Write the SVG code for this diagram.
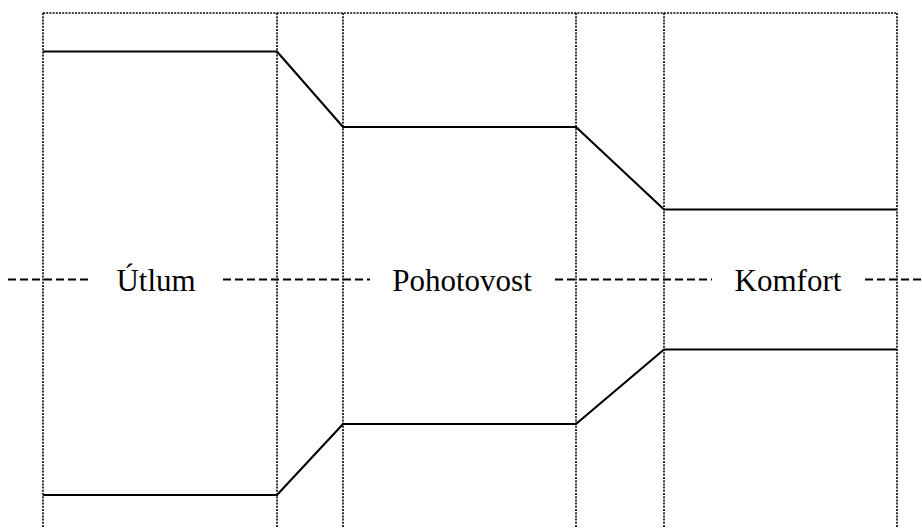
<svg xmlns="http://www.w3.org/2000/svg" width="922" height="528" viewBox="0 0 922 528">
<style>
.dot{stroke:#000;stroke-width:1.6;stroke-dasharray:2 1.2;fill:none}
.dash{stroke:#000;stroke-width:2;stroke-dasharray:8 4;fill:none}
.solid{stroke:#000;stroke-width:2.2;fill:none;stroke-linejoin:miter}
.lbl{font-size:31px;fill:#000;text-anchor:middle}
</style>
<rect width="922" height="528" fill="#fff"/>
<g id="grid">
<line class="dot" x1="43" y1="13" x2="897" y2="13"/>
<line class="dot" x1="43" y1="13" x2="43" y2="528"/>
<line class="dot" x1="277" y1="13" x2="277" y2="528"/>
<line class="dot" x1="343" y1="13" x2="343" y2="528"/>
<line class="dot" x1="576" y1="13" x2="576" y2="528"/>
<line class="dot" x1="664" y1="13" x2="664" y2="528"/>
<line class="dot" x1="897" y1="13" x2="897" y2="528"/>
</g>
<g id="connectors">
<line class="dash" x1="8" y1="279.5" x2="88" y2="279.5"/>
<line class="dash" x1="223" y1="279.5" x2="370" y2="279.5"/>
<line class="dash" x1="555" y1="279.5" x2="712" y2="279.5"/>
<line class="dash" x1="865" y1="279.5" x2="922" y2="279.5"/>
<polyline class="solid" points="43,51.5 277,51.5 343,127 576,127 664,209.5 897,209.5"/>
<polyline class="solid" points="43,495 277,495 343,424 576,424 664,349.5 897,349.5"/>
</g>
<g id="node-utlum"><text class="lbl" font-family="Liberation Serif, Times New Roman, serif" x="156" y="291">Útlum</text></g>
<g id="node-pohotovost"><text class="lbl" font-family="Liberation Serif, Times New Roman, serif" x="462" y="291">Pohotovost</text></g>
<g id="node-komfort"><text class="lbl" font-family="Liberation Serif, Times New Roman, serif" x="788" y="291">Komfort</text></g>
</svg>
